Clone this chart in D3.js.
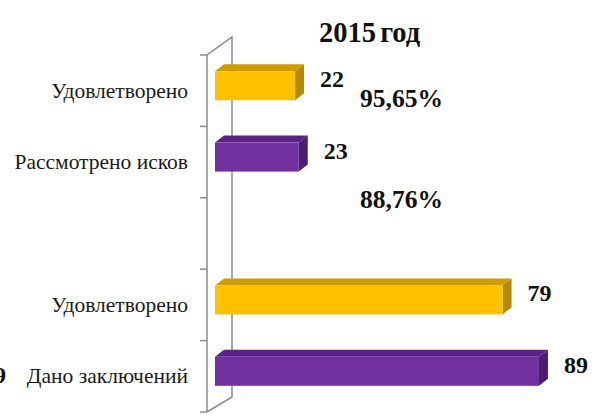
<!DOCTYPE html>
<meta charset="utf-8">
<html>
<head>
<style>
  body { margin: 0; background: #fff; }
  text { font-family: "Liberation Serif", "Times New Roman", serif; }
</style>
</head>
<body>
<div id="chart"></div>
<script src="https://d3js.org/d3.v7.min.js"></script>
<script>

  // Data
  var categories = ["Удовлетворено", "Рассмотрено исков", "", "Удовлетворено", "Дано заключений"];
  var values = [22, 23, null, 79, 89];
  var barKind = ["yes", "total", null, "yes", "total"];
  var percentLabels = ["95,65%", "88,76%"];
  var title = "2015 год";

  var width = 595, height = 417;

  var svg = d3.select("#chart")
    .append("svg")
      .attr("width", width)
      .attr("height", height);

  // front plane of the left wall
  var axisX = 207, plotTop = 55, plotBottom = 412;
  var wallDx = 25, wallDy = 18;   // depth of the wall
  var barDx = 9, barDy = 7;       // depth of a bar

  var y = d3.scaleBand()
    .domain(d3.range(categories.length))
    .range([plotTop, plotBottom]);

  var x = d3.scaleLinear()
    .domain([0, 100])
    .range([axisX + (wallDx - barDx) / 2, axisX + (wallDx - barDx) / 2 + 364]);

  var colors = {
    yes:   { front: "#FFC000", top: "#CF9C00", side: "#B58A08" },
    total: { front: "#7030A0", top: "#5A2286", side: "#4C1B72" }
  };

  // Left wall edges
  var wall = svg.append("g")
    .attr("stroke", "#8c8c8c")
    .attr("stroke-width", 1.5)
    .attr("fill", "none");
  wall.append("path")
    .attr("d", "M" + axisX + "," + plotBottom + "V" + plotTop +
               "L" + (axisX + wallDx) + "," + (plotTop - wallDy) +
               "V" + (plotBottom - wallDy + 3) +
               "L" + axisX + "," + plotBottom);

  // Category axis with ticks on the band edges
  var edges = d3.range(categories.length + 1).map(function(i) {
    return i < categories.length ? y(i) : plotBottom;
  });
  wall.selectAll("line.tick")
    .data(edges)
    .enter()
    .append("line")
      .attr("class", "tick")
      .attr("x1", axisX - 7)
      .attr("x2", axisX)
      .attr("y1", function(d) { return d; })
      .attr("y2", function(d) { return d; });

  svg.selectAll("text.cat")
    .data(categories)
    .enter()
    .append("text")
      .attr("class", "cat")
      .attr("x", 188)
      .attr("y", function(d, i) { return y(i) + y.bandwidth() / 2 + 7; })
      .attr("text-anchor", "end")
      .attr("font-size", "21.5px")
      .attr("fill", "#1a1a1a")
      .text(function(d) { return d; });

  // 3D bars
  var barH = 29;
  var bars = svg.selectAll("g.bar")
    .data(values.map(function(v, i) { return { v: v, i: i, k: barKind[i] }; })
      .filter(function(d) { return d.v !== null; }))
    .enter()
    .append("g")
      .attr("class", "bar");

  function geom(d) {
    var x0 = x(0), x1 = x(d.v);
    var y0 = y(d.i) + y.bandwidth() / 2 - 5 - barH / 2, y1 = y0 + barH;
    return { x0: x0, x1: x1, y0: y0, y1: y1 };
  }

  bars.append("path")
    .attr("fill", function(d) { return colors[d.k].top; })
    .attr("d", function(d) {
      var g = geom(d);
      return "M" + g.x0 + "," + g.y0 + "L" + (g.x0 + barDx) + "," + (g.y0 - barDy) +
             "L" + (g.x1 + barDx) + "," + (g.y0 - barDy) + "L" + g.x1 + "," + g.y0 + "Z";
    });
  bars.append("path")
    .attr("fill", function(d) { return colors[d.k].side; })
    .attr("d", function(d) {
      var g = geom(d);
      return "M" + g.x1 + "," + g.y0 + "L" + (g.x1 + barDx) + "," + (g.y0 - barDy) +
             "L" + (g.x1 + barDx) + "," + (g.y1 - barDy) + "L" + g.x1 + "," + g.y1 + "Z";
    });
  bars.append("rect")
    .attr("fill", function(d) { return colors[d.k].front; })
    .attr("x", function(d) { return geom(d).x0; })
    .attr("y", function(d) { return geom(d).y0; })
    .attr("width", function(d) { return geom(d).x1 - geom(d).x0; })
    .attr("height", barH);

  // Value labels
  bars.append("text")
    .attr("x", function(d) { return Math.max(geom(d).x1 + barDx + 16, 320); })
    .attr("y", function(d) { return geom(d).y0 + 16; })
    .attr("font-size", "24px")
    .attr("font-weight", "bold")
    .attr("fill", "#111")
    .text(function(d) { return d.v; });

  // Percentages
  svg.selectAll("text.pct")
    .data(percentLabels)
    .enter()
    .append("text")
      .attr("class", "pct")
      .attr("x", 360)
      .attr("y", function(d, i) { return i === 0 ? 107 : 208; })
      .attr("font-size", "25.5px")
      .attr("font-weight", "bold")
      .attr("fill", "#111")
      .text(function(d) { return d; });

  // Title
  svg.append("text")
    .attr("x", 319)
    .attr("y", 42)
    .attr("font-size", "28.5px")
    .attr("font-weight", "bold")
    .attr("fill", "#111")
    .attr("word-spacing", "-3px")
    .text(title);

  // edge of the neighbouring chart, cut off at the left
  svg.append("text")
    .attr("x", 6)
    .attr("y", 383)
    .attr("text-anchor", "end")
    .attr("font-size", "24px")
    .attr("font-weight", "bold")
    .attr("fill", "#111")
    .text("89");

</script>
</body>
</html>
